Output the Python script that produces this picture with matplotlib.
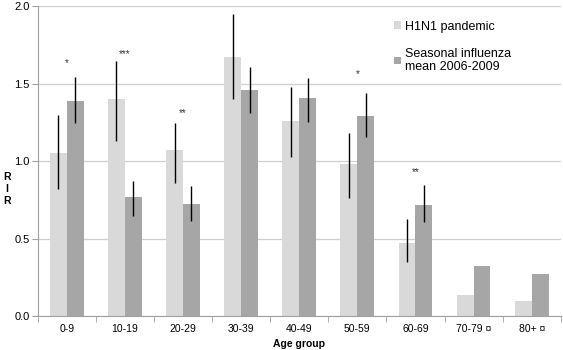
import numpy as np
import matplotlib
matplotlib.use("Agg")
import matplotlib.pyplot as plt

plt.rcParams["font.family"] = ["Liberation Sans", "DejaVu Sans"]

grupos = ["0-9", "10-19", "20-29", "30-39", "40-49", "50-59", "60-69",
          "70-79 ¤", "80+ ¤"]
h1n1 = [1.05, 1.40, 1.075, 1.67, 1.26, 0.98, 0.47, 0.135, 0.10]
h1n1_lo = [0.82, 1.13, 0.86, 1.40, 1.03, 0.76, 0.35, np.nan, np.nan]
h1n1_hi = [1.30, 1.645, 1.245, 1.95, 1.48, 1.18, 0.625, np.nan, np.nan]
estacional = [1.39, 0.77, 0.725, 1.46, 1.41, 1.29, 0.72, 0.325, 0.27]
est_lo = [1.245, 0.645, 0.615, 1.31, 1.255, 1.155, 0.61, np.nan, np.nan]
est_hi = [1.545, 0.875, 0.84, 1.61, 1.54, 1.44, 0.845, np.nan, np.nan]
# asteriscos de significación: (índice de grupo, texto, altura)
signif = [(0, "*", 1.60), (1, "***", 1.66), (2, "**", 1.28),
          (5, "*", 1.53), (6, "**", 0.90)]

x = np.arange(len(grupos))
w = 0.29
c_claro, c_oscuro = "#d9d9d9", "#a6a6a6"

fig = plt.figure(figsize=(5.63, 3.5), dpi=100)
ax = fig.add_axes([0.067, 0.097, 0.929, 0.885])

ax.set_axisbelow(True)
ax.yaxis.grid(True, color="#cfcfcf", lw=0.9)
ax.bar(x - w/2, h1n1, w, color=c_claro, label="H1N1 pandemic")
ax.bar(x + w/2, estacional, w, color=c_oscuro,
       label="Seasonal influenza\nmean 2006-2009")
ax.vlines(x - w/2, h1n1_lo, h1n1_hi, color="black", lw=1)
ax.vlines(x + w/2, est_lo, est_hi, color="black", lw=1)
for i, s, yy in signif:
    ax.text(x[i], yy, s, ha="center", va="bottom", fontsize=7, color="#333333")

ax.set_xlim(-0.5, len(grupos) - 0.5)
ax.set_ylim(0, 2.0)
ax.set_yticks([0, 0.5, 1.0, 1.5, 2.0])
ax.set_yticklabels(["0.0", "0.5", "1.0", "1.5", "2.0"])
ax.set_xticks(x)
ax.set_xticklabels(grupos)
ax.set_xticks(np.arange(len(grupos) + 1) - 0.5, minor=True)
ax.tick_params(axis="x", which="major", length=0, labelsize=7.5, pad=6)
ax.tick_params(axis="x", which="minor", length=4, color="#a0a0a0")
ax.tick_params(axis="y", length=4, color="#a0a0a0", labelsize=8, pad=2)
for lado in ["top", "right"]:
    ax.spines[lado].set_visible(False)
ax.spines["left"].set_color("#a0a0a0")
ax.spines["bottom"].set_color("#a0a0a0")

ax.set_xlabel("Age group", fontsize=7.5, fontweight="bold", labelpad=3)
fig.text(0.012, 0.46, "R\nI\nR", fontsize=7.5, fontweight="bold",
         ha="center", va="center", linespacing=1.2)

leg = ax.legend(loc="upper left", bbox_to_anchor=(0.66, 0.99), frameon=False,
                fontsize=9, handlelength=0.55, handleheight=0.55,
                handletextpad=0.3, labelspacing=1.2)

fig.savefig("out.png", dpi=100)
